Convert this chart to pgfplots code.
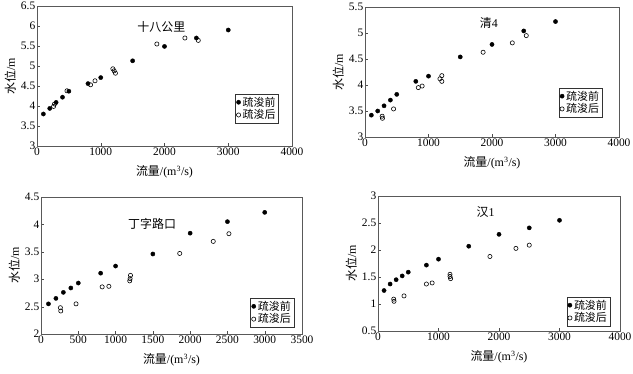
\documentclass[border=0pt]{standalone}
\usepackage{pgfplots}
\pgfplotsset{compat=1.18}
\usepackage{fontspec}
\setmainfont{Liberation Serif}
\newfontfamily\cjk{Noto Sans CJK SC}
\pgfplotsset{
  panel/.style={
    scale only axis,
    axis line style={black!65, line width=0.7pt},
    xtick pos=bottom, ytick pos=left, tick align=inside,
    major tick length=3bp, tick style={black!70},
    /pgf/number format/assume math mode=true,
    /pgf/number format/1000 sep={},
    scaled ticks=false,
    ticklabel style={font=\fontsize{11.5}{12}\selectfont, inner sep=1.5bp},
    label style={font=\fontsize{12}{13}\selectfont},
    xlabel style={yshift=-5bp},
    xlabel={{\cjk 流量}/(m\textsuperscript{3}/s)},
    ylabel={{\cjk 水位}/m},
    legend cell align=left,
    legend style={draw=black!80, font=\fontsize{11}{12}\selectfont\cjk, inner xsep=1bp, inner ysep=0.5bp,
      row sep=-2bp, /tikz/every even column/.append style={column sep=0pt}},
    legend image code/.code={\draw[#1] plot coordinates {(0.08cm,0cm)};},
  },
  before/.style={only marks, mark=*, mark size=2.1bp, black},
  after/.style={only marks, mark=o, mark size=2.1bp, black, mark options={line width=0.6pt}},
}
\begin{document}
\begin{tikzpicture}
\path[use as bounding box] (0,0) rectangle (633bp,-374bp);
% Panel 1
\begin{axis}[panel, at={(37bp,-146bp)}, anchor=south west, width=255bp, height=140bp,
  xmin=0, xmax=4000, ymin=3, ymax=6.5, xtick={0,1000,2000,3000,4000}, ytick={3,3.5,4,4.5,5,5.5,6,6.5},
  legend style={at={(0.948,0.164)}, anchor=south east}]
\addplot[before] coordinates {(100,3.80) (200,3.94) (300,4.09) (400,4.22) (500,4.37) (800,4.56) (1000,4.71) (1500,5.13) (2000,5.49) (2500,5.70) (3000,5.90)};
\addplot[after] coordinates {(260,3.99) (275,4.05) (470,4.38) (840,4.53) (910,4.63) (1190,4.93) (1210,4.88) (1230,4.82) (1880,5.55) (2320,5.70) (2530,5.64)};
\legend{疏浚前,疏浚后}
\node[font=\fontsize{12}{13}\selectfont\cjk] at (axis cs:1950,5.97) {十八公里};
\end{axis}
% Panel 2
\begin{axis}[panel, at={(365bp,-137bp)}, anchor=south west, width=254bp, height=130bp,
  xmin=0, xmax=4000, ymin=3, ymax=5.5, xtick={0,1000,2000,3000,4000}, ytick={3,3.5,4,4.5,5,5.5},
  legend style={at={(0.934,0.154)}, anchor=south east}]
\addplot[before] coordinates {(100,3.42) (200,3.50) (300,3.60) (400,3.71) (500,3.82) (800,4.07) (1000,4.17) (1500,4.54) (2000,4.78) (2500,5.04) (3000,5.22)};
\addplot[after] coordinates {(270,3.40) (275,3.36) (450,3.54) (840,3.95) (900,3.98) (1180,4.12) (1210,4.18) (1210,4.07) (1860,4.63) (2320,4.81) (2540,4.95)};
\legend{疏浚前,疏浚后}
\node[font=\fontsize{12}{13}\selectfont] at (axis cs:1950,5.19) {{\cjk 清}4};
\end{axis}
% Panel 3
\begin{axis}[panel, at={(41bp,-334bp)}, anchor=south west, width=261bp, height=137bp,
  xmin=0, xmax=3500, ymin=2, ymax=4.5, xtick={0,500,1000,1500,2000,2500,3000,3500}, ytick={2,2.5,3,3.5,4,4.5},
  legend style={at={(0.969,0.05)}, anchor=south east}]
\addplot[before] coordinates {(100,2.55) (200,2.65) (300,2.76) (400,2.84) (500,2.93) (800,3.11) (1000,3.24) (1500,3.46) (2000,3.84) (2500,4.05) (3000,4.22)};
\addplot[after] coordinates {(260,2.48) (265,2.42) (470,2.55) (820,2.86) (910,2.87) (1200,3.07) (1195,3.01) (1190,2.97) (1860,3.47) (2310,3.69) (2520,3.83)};
\legend{疏浚前,疏浚后}
\node[font=\fontsize{12}{13}\selectfont\cjk] at (axis cs:1490,4.0) {丁字路口};
\end{axis}
% Panel 4
\begin{axis}[panel, at={(378bp,-331bp)}, anchor=south west, width=242bp, height=135bp,
  xmin=0, xmax=4000, ymin=0.5, ymax=3, xtick={0,1000,2000,3000,4000}, ytick={0.5,1,1.5,2,2.5,3},
  legend style={at={(0.959,0.037)}, anchor=south east}]
\addplot[before] coordinates {(100,1.25) (200,1.37) (300,1.45) (400,1.52) (500,1.59) (800,1.72) (1000,1.83) (1500,2.07) (2000,2.29) (2500,2.41) (3000,2.55)};
\addplot[after] coordinates {(260,1.09) (265,1.05) (430,1.15) (800,1.37) (895,1.39) (1190,1.55) (1190,1.51) (1200,1.47) (1850,1.88) (2280,2.03) (2500,2.09)};
\legend{疏浚前,疏浚后}
\node[font=\fontsize{12}{13}\selectfont] at (axis cs:1780,2.7) {{\cjk 汉}1};
\end{axis}
\end{tikzpicture}
\end{document}
